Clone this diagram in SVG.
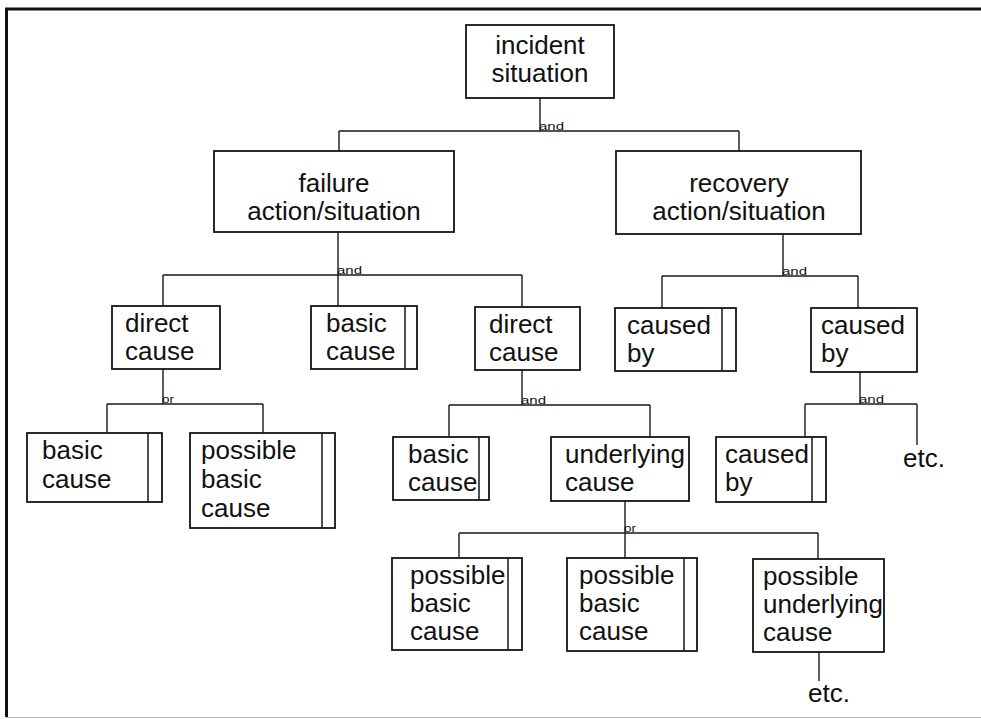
<svg xmlns="http://www.w3.org/2000/svg" width="981" height="719" viewBox="0 0 981 719">
  <style>
    .box { fill: none; stroke: #151515; stroke-width: 1.8; }
    .bar { stroke: #151515; stroke-width: 1.5; }
    .t { font-family: "Liberation Sans", Arial, Helvetica, sans-serif; font-size: 26px; fill: #111; }
    .c { text-anchor: middle; }
    .op { font-family: "Liberation Sans", Arial, sans-serif; font-size: 11px; fill: #111; }
    .wire { fill: none; stroke: #1a1a1a; stroke-width: 1.4; }
  </style>
  <rect width="981" height="719" fill="#ffffff"/>

  <!-- page frame -->
  <g id="frame">
    <line x1="5" y1="9" x2="981" y2="9" stroke="#111" stroke-width="3"/>
    <line x1="6.5" y1="8" x2="6.5" y2="717" stroke="#111" stroke-width="3"/>
    <line x1="6" y1="717.5" x2="981" y2="717.5" stroke="#bbb" stroke-width="1"/>
  </g>

  <!-- tree connectors -->
  <g id="connectors" class="wire">
    <path d="M540 98V131M339 131H739M339 131V151M739 131V151"/>
    <path d="M338 232V306M163 275H522M163 275V306M522 275V307"/>
    <path d="M783 234V276M662 276H858M662 276V308M858 276V308"/>
    <path d="M163 369V404M107 404H263M107 404V433M263 404V433"/>
    <path d="M522 370V405M449 405H650M449 405V437M650 405V437"/>
    <path d="M860 372V404M805 404H917M805 404V437M917 404V445"/>
    <path d="M625 501V533M459 533H818M459 533V558M625 533V558M818 533V559"/>
    <path d="M819 652V681"/>
  </g>

  <!-- junction labels -->
  <g id="labels">
    <text class="op" x="539" y="130" textLength="25" lengthAdjust="spacingAndGlyphs">and</text>
    <text class="op" x="337" y="274" textLength="25" lengthAdjust="spacingAndGlyphs">and</text>
    <text class="op" x="782" y="275" textLength="25" lengthAdjust="spacingAndGlyphs">and</text>
    <text class="op" x="521" y="404" textLength="25" lengthAdjust="spacingAndGlyphs">and</text>
    <text class="op" x="859" y="403" textLength="25" lengthAdjust="spacingAndGlyphs">and</text>
    <text class="op" x="162" y="403" textLength="12" lengthAdjust="spacingAndGlyphs">or</text>
    <text class="op" x="624" y="532" textLength="12" lengthAdjust="spacingAndGlyphs">or</text>
    <text class="t" x="903" y="467">etc.</text>
    <text class="t" x="808" y="702">etc.</text>
  </g>

  <g id="incident">
    <rect class="box" x="466" y="25" width="148" height="73"/>
    <text class="t c" x="540" y="54">incident</text>
    <text class="t c" x="540" y="82">situation</text>
  </g>

  <g id="failure">
    <rect class="box" x="214" y="151" width="240" height="81"/>
    <text class="t c" x="334" y="192">failure</text>
    <text class="t c" x="334" y="220">action/situation</text>
  </g>

  <g id="recovery">
    <rect class="box" x="616" y="151" width="245" height="83"/>
    <text class="t c" x="739" y="192">recovery</text>
    <text class="t c" x="739" y="220">action/situation</text>
  </g>

  <g id="direct-cause-1">
    <rect class="box" x="112" y="306" width="108" height="63"/>
    <text class="t" x="125" y="332">direct</text>
    <text class="t" x="125" y="360">cause</text>
  </g>

  <g id="basic-cause-1">
    <rect class="box" x="311" y="306" width="106" height="63"/>
    <line class="bar" x1="405" y1="306" x2="405" y2="369"/>
    <text class="t" x="326" y="332">basic</text>
    <text class="t" x="326" y="360">cause</text>
  </g>

  <g id="direct-cause-2">
    <rect class="box" x="475" y="307" width="105" height="63"/>
    <text class="t" x="489" y="333">direct</text>
    <text class="t" x="489" y="361">cause</text>
  </g>

  <g id="caused-by-1">
    <rect class="box" x="615" y="308" width="121" height="63"/>
    <line class="bar" x1="722" y1="308" x2="722" y2="371"/>
    <text class="t" x="627" y="334">caused</text>
    <text class="t" x="627" y="362">by</text>
  </g>

  <g id="caused-by-2">
    <rect class="box" x="811" y="308" width="106" height="64"/>
    <text class="t" x="821" y="334">caused</text>
    <text class="t" x="821" y="362">by</text>
  </g>

  <g id="basic-cause-2">
    <rect class="box" x="27" y="433" width="135" height="69"/>
    <line class="bar" x1="148" y1="433" x2="148" y2="502"/>
    <text class="t" x="42" y="459">basic</text>
    <text class="t" x="42" y="488">cause</text>
  </g>

  <g id="possible-basic-cause-1">
    <rect class="box" x="190" y="433" width="145" height="95"/>
    <line class="bar" x1="322" y1="433" x2="322" y2="528"/>
    <text class="t" x="201" y="459">possible</text>
    <text class="t" x="201" y="488">basic</text>
    <text class="t" x="201" y="517">cause</text>
  </g>

  <g id="basic-cause-3">
    <rect class="box" x="393" y="437" width="96" height="63"/>
    <line class="bar" x1="479" y1="437" x2="479" y2="500"/>
    <text class="t" x="408" y="463">basic</text>
    <text class="t" x="408" y="491">cause</text>
  </g>

  <g id="underlying-cause">
    <rect class="box" x="551" y="437" width="138" height="64"/>
    <text class="t" x="565" y="463">underlying</text>
    <text class="t" x="565" y="491">cause</text>
  </g>

  <g id="caused-by-3">
    <rect class="box" x="716" y="437" width="110" height="65"/>
    <line class="bar" x1="812" y1="437" x2="812" y2="502"/>
    <text class="t" x="725" y="463">caused</text>
    <text class="t" x="725" y="491">by</text>
  </g>

  <g id="possible-basic-cause-2">
    <rect class="box" x="392" y="558" width="130" height="92"/>
    <line class="bar" x1="508" y1="558" x2="508" y2="650"/>
    <text class="t" x="410" y="584">possible</text>
    <text class="t" x="410" y="612">basic</text>
    <text class="t" x="410" y="640">cause</text>
  </g>

  <g id="possible-basic-cause-3">
    <rect class="box" x="567" y="558" width="130" height="93"/>
    <line class="bar" x1="684" y1="558" x2="684" y2="651"/>
    <text class="t" x="579" y="584">possible</text>
    <text class="t" x="579" y="612">basic</text>
    <text class="t" x="579" y="640">cause</text>
  </g>

  <g id="possible-underlying-cause">
    <rect class="box" x="753" y="559" width="131" height="93"/>
    <text class="t" x="763" y="585">possible</text>
    <text class="t" x="763" y="613">underlying</text>
    <text class="t" x="763" y="641">cause</text>
  </g>
</svg>
